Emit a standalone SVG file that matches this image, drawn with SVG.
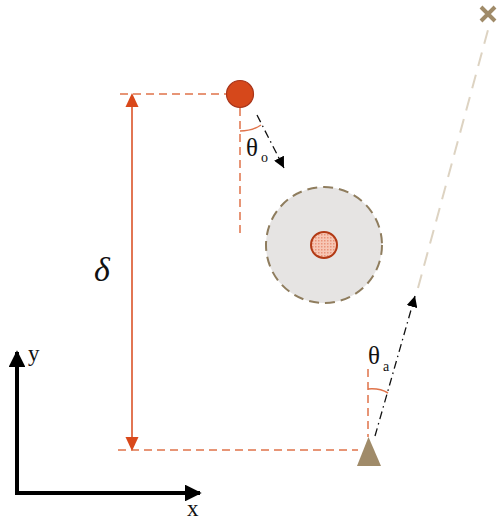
<svg xmlns="http://www.w3.org/2000/svg" width="497" height="522" viewBox="0 0 497 522">
<defs>
<style>
.guide{fill:none;stroke:#e0734a;stroke-width:1.5;stroke-dasharray:8,5}
.dim{fill:none;stroke:#d9481a;stroke-width:1.5}
.dashdot{fill:none;stroke:#111;stroke-width:1.3;stroke-dasharray:8,4,1.5,4}
.ext{fill:none;stroke:#ddd3c2;stroke-width:2;stroke-dasharray:14,9}
.axis{fill:none;stroke:#000;stroke-width:4}
.arc{fill:none;stroke:#e0734a;stroke-width:1.5}
.lbl{font-family:"Liberation Serif","DejaVu Serif",serif;fill:#111}
</style>
<pattern id="dots" width="3" height="3" patternUnits="userSpaceOnUse">
<rect width="3" height="3" fill="#f7c7b5"/>
<rect width="1.5" height="1.5" fill="#e9947a"/>
</pattern>
<marker id="blk" viewBox="0 0 10 10" refX="10" refY="5" markerWidth="11" markerHeight="11" markerUnits="userSpaceOnUse" orient="auto">
<path d="M0,0 L10,5 L0,10 z" fill="#000"/>
</marker>
<marker id="ax" viewBox="0 0 10 10" refX="9" refY="5" markerWidth="4.2" markerHeight="4.2" orient="auto">
<path d="M0,0 L10,5 L0,10 z" fill="#000"/>
</marker>
</defs>

<g id="connectors">
<line class="guide" x1="120" y1="94" x2="226" y2="94"/>
<line class="guide" x1="240" y1="108" x2="240" y2="234"/>
<line class="guide" x1="118" y1="450" x2="358" y2="450"/>
<line class="guide" x1="368" y1="369" x2="368" y2="437"/>
<line class="dim" x1="132" y1="106" x2="132" y2="438"/>
<path d="M132,93 L125.5,107 L138.5,107 z" fill="#d9481a"/>
<path d="M132,451 L125.5,437 L138.5,437 z" fill="#d9481a"/>
<path class="arc" d="M240,131 Q252,131 261,125"/>
<path class="arc" d="M368,389 Q380,388 388,393"/>
<line class="dashdot" x1="257" y1="115" x2="284" y2="168" marker-end="url(#blk)"/>
<line class="dashdot" x1="375" y1="436" x2="415" y2="296" marker-end="url(#blk)"/>
<line class="ext" x1="418" y1="288" x2="488" y2="30"/>
<line class="axis" x1="17" y1="493" x2="17" y2="352" marker-end="url(#ax)"/>
<line class="axis" x1="15" y1="493" x2="200" y2="493" marker-end="url(#ax)"/>
</g>

<g id="source">
<circle cx="240" cy="94" r="13.5" fill="#d6481b" stroke="#a8351a" stroke-width="1.2"/>
</g>
<g id="obstacle">
<circle cx="324" cy="245" r="58" fill="#e6e4e3" stroke="#8f7d5e" stroke-width="2" stroke-dasharray="10,6"/>
<circle cx="324" cy="245" r="13" fill="url(#dots)" stroke="#b23a15" stroke-width="2"/>
</g>
<g id="receiver">
<path d="M368.5,437 L357,466 L381,466 z" fill="#a08b69"/>
</g>
<g id="target">
<path d="M481,7 L495,21 M495,7 L481,21" stroke="#a08b69" stroke-width="4"/>
</g>

<g id="labels">
<text class="lbl" x="246" y="156" font-size="25">θ</text>
<text class="lbl" x="261" y="162" font-size="14">o</text>
<text class="lbl" x="368" y="364" font-size="25">θ</text>
<text class="lbl" x="383" y="371" font-size="14">a</text>
<text class="lbl" x="94" y="281" font-size="34" font-style="italic">δ</text>
<text class="lbl" x="28" y="361" font-size="23">y</text>
<text class="lbl" x="187" y="516" font-size="23">x</text>
</g>
</svg>
